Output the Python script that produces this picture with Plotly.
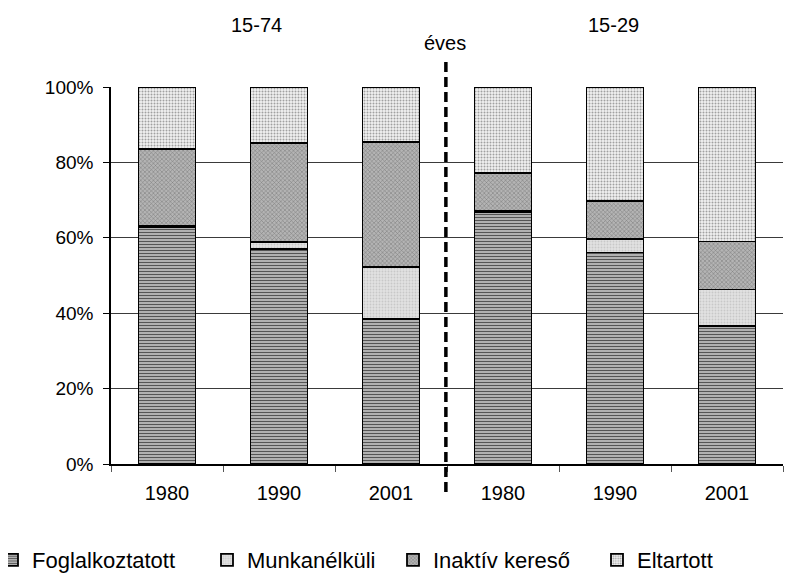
import plotly.graph_objects as go

groups = ["15-74", "15-74", "15-74", "15-29", "15-29", "15-29"]
years = ["1980", "1990", "2001", "1980", "1990", "2001"]
series_names = ["Foglalkoztatott", "Munkanélküli", "Inaktív kereső", "Eltartott"]
foglalkoztatott = [62.9, 57.0, 38.5, 66.9, 56.1, 36.6]
munkanelkuli = [0.3, 1.8, 13.8, 0.3, 3.5, 9.7]
inaktiv = [20.3, 26.3, 33.1, 9.9, 10.2, 12.7]
eltartott = [16.5, 14.9, 14.6, 22.9, 30.2, 41.0]
group_labels = ["15-74", "éves", "15-29"]

keys = [f"{g} {y}" for g, y in zip(groups, years)]
values = [foglalkoztatott, munkanelkuli, inaktiv, eltartott]
styles = [
    dict(shape="-", bgcolor="#c4c4c4", fgcolor="#555555", size=3, solidity=0.45),
    dict(shape=".", bgcolor="#e2e2e2", fgcolor="#c8c8c8", size=3, solidity=0.3),
    dict(shape="x", bgcolor="#b4b4b4", fgcolor="#777777", size=3, solidity=0.3),
    dict(shape=".", bgcolor="#f2f2f2", fgcolor="#a0a0a0", size=3, solidity=0.35),
]
legend_ids = ["legend", "legend2", "legend3", "legend4"]
legend_left_px = [-16, 199, 385, 589]

fig = go.Figure()
for name, vals, st, lid in zip(series_names, values, styles, legend_ids):
    fig.add_trace(go.Bar(
        x=keys, y=[v / 100 for v in vals], name=name, legend=lid,
        marker=dict(color=st["bgcolor"], line=dict(color="black", width=1.8),
                    pattern=dict(shape=st["shape"], bgcolor=st["bgcolor"], fgcolor=st["fgcolor"],
                                 size=st["size"], solidity=st["solidity"], fillmode="replace")),
    ))

L, R, T, B = 103, 20, 79, 122
pw = 795 - L - R
ph = 578 - T - B

layout_kw = dict(
    width=795, height=578,
    barmode="stack", bargap=0.49,
    paper_bgcolor="white", plot_bgcolor="white",
    margin=dict(l=L, r=R, t=T, b=B, autoexpand=False),
    font=dict(family="Liberation Sans, Arial, sans-serif", size=19, color="black"),
    showlegend=True,
)
for lid, lx in zip(legend_ids, legend_left_px):
    layout_kw[lid] = dict(orientation="h", x=(lx - L) / pw, xanchor="left",
                          y=(T + ph - 552) / ph, yanchor="middle",
                          font=dict(size=22), itemwidth=30, bgcolor="rgba(0,0,0,0)")
fig.update_layout(**layout_kw)

fig.update_xaxes(type="category", tickvals=keys, ticktext=years, tickson="boundaries",
                 ticks="outside", ticklen=6, tickcolor="#555", showline=True, linecolor="black",
                 linewidth=1.5, showgrid=False, ticklabelstandoff=10, tickfont=dict(size=20))
fig.update_yaxes(range=[0, 1], dtick=0.2, tickformat=".0%", ticks="outside", ticklen=6,
                 tickcolor="black", showline=True, linecolor="black", linewidth=1.5,
                 showgrid=True, gridcolor="#3a3a3a", gridwidth=1, zeroline=False,
                 ticklabelstandoff=6)

fig.add_shape(type="line", xref="x", yref="paper", x0=2.49, x1=2.49, y0=-0.074, y1=1.066,
              line=dict(color="black", width=3.5, dash="10px,5px"))

ann_pos = [(0.216, 1.164), (0.497, 1.117), (0.7485, 1.164)]
for txt, (ax, ay) in zip(group_labels, ann_pos):
    fig.add_annotation(text=txt, xref="paper", yref="paper", x=ax, y=ay, showarrow=False,
                       xanchor="center", yanchor="middle", font=dict(size=20))

fig.write_html("out.html")
